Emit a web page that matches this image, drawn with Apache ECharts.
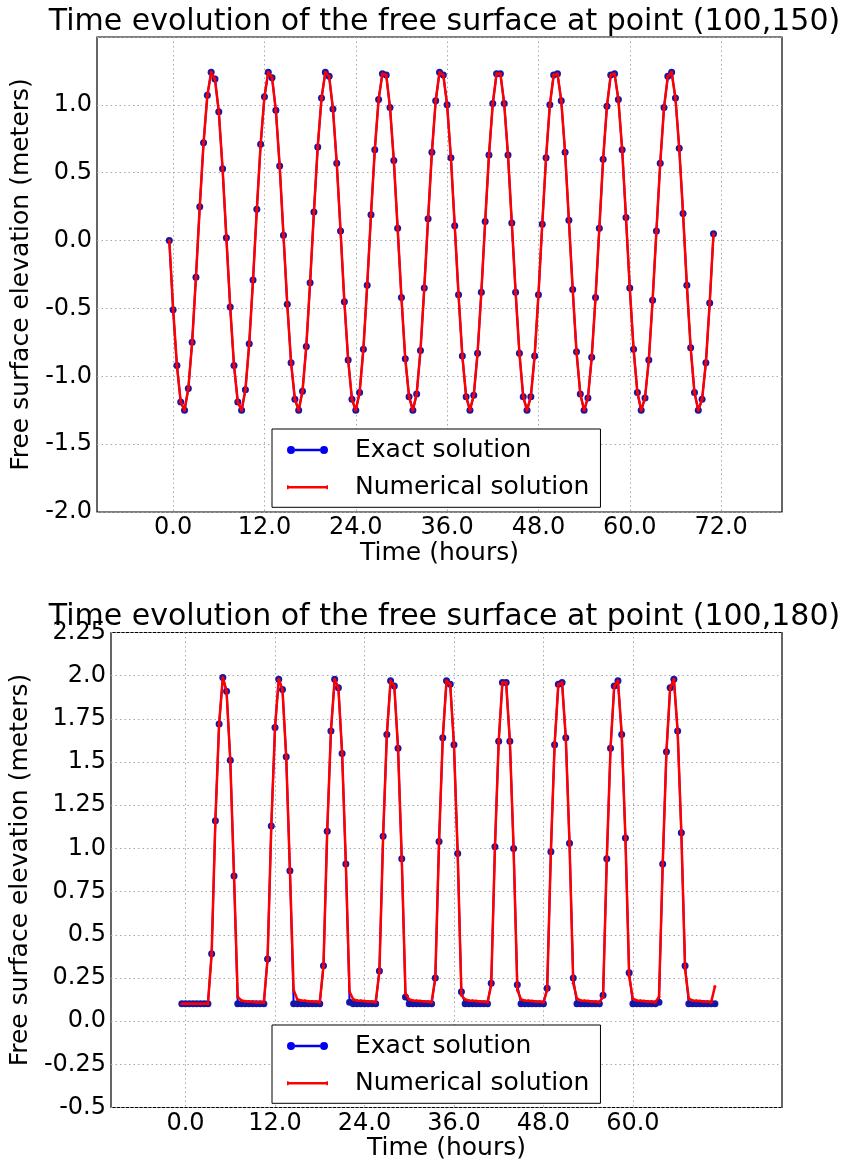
<!DOCTYPE html>
<html><head><meta charset="utf-8">
<script src="https://cdn.jsdelivr.net/npm/echarts@6/dist/echarts.min.js"></script>
<style>html,body{margin:0;padding:0;background:#fff}#c{width:846px;height:1164px}</style>
</head><body><div id="c"></div>
<script>
// ---------- data ----------
const titleTop = 'Time evolution of the free surface at point (100,150)';
const titleBot = 'Time evolution of the free surface at point (100,180)';
const xName = 'Time (hours)';
const yName = 'Free surface elevation (meters)';
const seriesNames = ['Exact solution', 'Numerical solution'];
const t0 = -0.5, dt = 0.5;            // sampling of the time series (hours)
const xTicksTop = [0, 12, 24, 36, 48, 60, 72];
const xTicksBot = [0, 12, 24, 36, 48, 60];

const exactTop = [
  0.00,-0.51,-0.92,-1.19,-1.25,-1.09,-0.75,-0.27, 0.25, 0.72, 1.07, 1.24, 1.19, 0.95, 0.53,
  0.02,-0.49,-0.92,-1.19,-1.25,-1.10,-0.76,-0.29, 0.23, 0.71, 1.06, 1.24, 1.20, 0.96, 0.55,
  0.04,-0.47,-0.90,-1.17,-1.25,-1.11,-0.78,-0.31, 0.21, 0.69, 1.05, 1.24, 1.21, 0.97, 0.57,
  0.07,-0.45,-0.88,-1.17,-1.25,-1.12,-0.80,-0.33, 0.19, 0.67, 1.04, 1.23, 1.22, 0.98, 0.59,
  0.09,-0.42,-0.87,-1.15,-1.25,-1.13,-0.81,-0.35, 0.16, 0.65, 1.03, 1.24, 1.22, 1.00, 0.61,
  0.11,-0.40,-0.85,-1.15,-1.25,-1.14,-0.83,-0.38, 0.14, 0.63, 1.01, 1.23, 1.23, 1.01, 0.63,
  0.13,-0.38,-0.83,-1.15,-1.25,-1.15,-0.85,-0.40, 0.12, 0.61, 1.00, 1.22, 1.23, 1.03, 0.65,
  0.15,-0.36,-0.82,-1.13,-1.25,-1.16,-0.86,-0.42, 0.09, 0.60, 0.99, 1.22, 1.23, 1.04, 0.67,
  0.17,-0.35,-0.80,-1.12,-1.25,-1.16,-0.88,-0.44, 0.07, 0.57, 0.98, 1.21, 1.24, 1.05, 0.68,
  0.20,-0.33,-0.79,-1.12,-1.25,-1.17,-0.90,-0.46, 0.05
];
const numTop = [
  0.00,-0.50,-0.92,-1.19,-1.25,-1.09,-0.75,-0.27, 0.25, 0.72, 1.07, 1.24, 1.19, 0.95, 0.53,
  0.02,-0.49,-0.92,-1.19,-1.25,-1.10,-0.76,-0.29, 0.23, 0.71, 1.06, 1.24, 1.20, 0.96, 0.55,
  0.04,-0.47,-0.90,-1.17,-1.25,-1.11,-0.78,-0.31, 0.21, 0.69, 1.05, 1.24, 1.21, 0.97, 0.57,
  0.07,-0.45,-0.88,-1.17,-1.25,-1.12,-0.80,-0.33, 0.19, 0.67, 1.04, 1.23, 1.22, 0.98, 0.59,
  0.09,-0.42,-0.87,-1.15,-1.25,-1.13,-0.81,-0.35, 0.16, 0.65, 1.03, 1.24, 1.22, 1.00, 0.61,
  0.11,-0.40,-0.85,-1.15,-1.25,-1.14,-0.83,-0.38, 0.14, 0.63, 1.01, 1.23, 1.23, 1.01, 0.63,
  0.13,-0.38,-0.83,-1.15,-1.25,-1.15,-0.85,-0.40, 0.12, 0.61, 1.00, 1.22, 1.23, 1.03, 0.65,
  0.15,-0.36,-0.82,-1.13,-1.25,-1.16,-0.86,-0.42, 0.09, 0.60, 0.99, 1.22, 1.23, 1.04, 0.67,
  0.17,-0.35,-0.80,-1.12,-1.25,-1.16,-0.88,-0.44, 0.07, 0.57, 0.98, 1.21, 1.24, 1.05, 0.68,
  0.20,-0.33,-0.79,-1.12,-1.25,-1.17,-0.90,-0.46, 0.05
];
const exactBot = [
  0.10, 0.10, 0.10, 0.10, 0.10, 0.10, 0.10, 0.10, 0.39, 1.16, 1.72, 1.99, 1.91, 1.51, 0.84,
  0.10, 0.10, 0.10, 0.10, 0.10, 0.10, 0.10, 0.10, 0.36, 1.13, 1.70, 1.98, 1.92, 1.53, 0.87,
  0.10, 0.10, 0.10, 0.10, 0.10, 0.10, 0.10, 0.10, 0.32, 1.10, 1.68, 1.98, 1.93, 1.55, 0.91,
  0.11, 0.10, 0.10, 0.10, 0.10, 0.10, 0.10, 0.10, 0.29, 1.07, 1.66, 1.97, 1.94, 1.58, 0.94,
  0.14, 0.10, 0.10, 0.10, 0.10, 0.10, 0.10, 0.10, 0.25, 1.04, 1.64, 1.97, 1.95, 1.60, 0.97,
  0.17, 0.10, 0.10, 0.10, 0.10, 0.10, 0.10, 0.10, 0.22, 1.01, 1.62, 1.96, 1.96, 1.62, 1.00,
  0.21, 0.10, 0.10, 0.10, 0.10, 0.10, 0.10, 0.10, 0.19, 0.98, 1.60, 1.95, 1.96, 1.64, 1.03,
  0.25, 0.10, 0.10, 0.10, 0.10, 0.10, 0.10, 0.10, 0.15, 0.94, 1.58, 1.94, 1.97, 1.66, 1.06,
  0.28, 0.10, 0.10, 0.10, 0.10, 0.10, 0.10, 0.10, 0.11, 0.91, 1.56, 1.93, 1.98, 1.68, 1.09,
  0.32, 0.10, 0.10, 0.10, 0.10, 0.10, 0.10, 0.10, 0.10
];
const numBot = [
  0.10, 0.10, 0.10, 0.10, 0.10, 0.10, 0.10, 0.10, 0.39, 1.16, 1.72, 1.99, 1.91, 1.51, 0.84,
  0.14, 0.12, 0.115,0.113,0.112,0.11, 0.11, 0.108,0.36, 1.13, 1.70, 1.98, 1.92, 1.53, 0.87,
  0.18, 0.125,0.12, 0.118,0.115,0.113,0.112,0.11, 0.32, 1.10, 1.68, 1.98, 1.93, 1.55, 0.91,
  0.17, 0.125,0.12, 0.118,0.116,0.114,0.112,0.11, 0.29, 1.07, 1.66, 1.97, 1.94, 1.58, 0.94,
  0.16, 0.125,0.12, 0.118,0.116,0.114,0.112,0.11, 0.25, 1.04, 1.64, 1.97, 1.95, 1.60, 0.97,
  0.15, 0.125,0.12, 0.118,0.116,0.114,0.112,0.11, 0.21, 1.01, 1.62, 1.96, 1.96, 1.62, 1.00,
  0.18, 0.125,0.12, 0.118,0.116,0.114,0.112,0.11, 0.18, 0.98, 1.60, 1.95, 1.96, 1.64, 1.03,
  0.22, 0.13, 0.12, 0.118,0.116,0.114,0.112,0.11, 0.14, 0.94, 1.58, 1.94, 1.97, 1.66, 1.06,
  0.26, 0.13, 0.12, 0.118,0.116,0.114,0.112,0.11, 0.14, 0.91, 1.56, 1.93, 1.98, 1.68, 1.09,
  0.30, 0.13, 0.12, 0.118,0.116,0.114,0.112,0.11, 0.20
];

// ---------- chart ----------
const FONT = 'DejaVu Sans';
const pairs = arr => arr.map((v, i) => [t0 + i * dt, v]);
const chart = echarts.init(document.getElementById('c'), null, {renderer: 'canvas'});

const grids = [
  {left: 97, top: 37, width: 685, height: 475},
  {left: 97, top: 632.5, width: 685, height: 475}
];
const gridStyle = {show: true, borderColor: '#000', borderWidth: 1.2, backgroundColor: '#fff'};

const dotted = {show: true, lineStyle: {color: '#a8a8a8', type: [1.5, 3], width: 1}};

function xAxis(gi, ticks) {
  return {
    type: 'value', gridIndex: gi, min: -10, max: 80,
    name: xName, nameLocation: 'middle', nameGap: 27,
    nameTextStyle: {fontFamily: FONT, fontSize: 25, color: '#000'},
    axisLine: {show: false},
    axisTick: {show: false, customValues: ticks},
    axisLabel: {customValues: ticks, formatter: v => v.toFixed(1), fontFamily: FONT, fontSize: 24, color: '#000', margin: 4},
    splitLine: dotted
  };
}
function yAxis(gi, min, max, interval, fmt, showMax, gap) {
  return {
    type: 'value', gridIndex: gi, min, max, interval,
    name: yName, nameLocation: 'middle', nameGap: gap,
    nameTextStyle: {fontFamily: FONT, fontSize: 25, color: '#000'},
    axisLine: {show: false}, axisTick: {show: false},
    axisLabel: {formatter: fmt, fontFamily: FONT, fontSize: 24, color: '#000', margin: 5, showMaxLabel: showMax, showMinLabel: true},
    splitLine: dotted
  };
}
const fmtTop = v => v.toFixed(1);
const fmtBot = v => (Math.abs(v * 2 - Math.round(v * 2)) < 1e-9 ? v.toFixed(1) : v.toFixed(2));

const iconExact = 'path://M0,4A4,4,0,1,1,8,4A4,4,0,1,1,0,4ZM8,2.8L33,2.8L33,5.2L8,5.2ZM33,4A4,4,0,1,1,41,4A4,4,0,1,1,33,4Z';
const iconNum = 'path://M0,2L1.6,2L1.6,6L0,6ZM39.4,2L41,2L41,6L39.4,6ZM1.6,2.8L39.4,2.8L39.4,5.2L1.6,5.2Z';

function legend(top) {
  return {
    left: 272, top: top, orient: 'vertical',
    padding: [7, 11, 6, 15], itemGap: 9.3, itemWidth: 41, itemHeight: 8,
    borderColor: '#000', borderWidth: 1, backgroundColor: '#fff',
    textStyle: {fontFamily: FONT, fontSize: 25, color: '#000', lineHeight: 28, padding: [0, 0, 0, 22]},
    data: [
      {name: seriesNames[0], icon: iconExact, itemStyle: {color: '#0000ee'}},
      {name: seriesNames[1], icon: iconNum, itemStyle: {color: '#ff0000'}}
    ],
    selectedMode: false
  };
}

function exactSeries(gi, arr) {
  return {
    name: seriesNames[0], type: 'line', xAxisIndex: gi, yAxisIndex: gi, data: pairs(arr),
    symbol: 'circle', symbolSize: 7, showSymbol: true,
    itemStyle: {color: '#1616a8'}, lineStyle: {color: '#0000ee', width: 2}, z: 2
  };
}
function numSeries(gi, arr) {
  return {
    name: seriesNames[1], type: 'line', xAxisIndex: gi, yAxisIndex: gi, data: pairs(arr),
    symbol: 'circle', symbolSize: 3, showSymbol: true,
    itemStyle: {color: '#ff0000'}, lineStyle: {color: '#ff0000', width: 2.5}, z: 3
  };
}

chart.setOption({
  animation: false,
  backgroundColor: '#fff',
  title: [
    {text: titleTop, left: 439.5, textAlign: 'center', top: 2, textStyle: {fontFamily: FONT, fontSize: 30, fontWeight: 'normal', color: '#000'}},
    {text: titleBot, left: 439.5, textAlign: 'center', top: 597, textStyle: {fontFamily: FONT, fontSize: 30, fontWeight: 'normal', color: '#000'}}
  ],
  grid: grids.map(g => Object.assign({}, g, gridStyle)),
  xAxis: [xAxis(0, xTicksTop), xAxis(1, xTicksBot)],
  yAxis: [
    yAxis(0, -2, 1.5, 0.5, fmtTop, false, 48),
    yAxis(1, -0.5, 2.25, 0.25, fmtBot, true, 74)
  ],
  legend: [legend(429), legend(1025)],
  series: [
    exactSeries(0, exactTop), numSeries(0, numTop),
    exactSeries(1, exactBot), numSeries(1, numBot)
  ]
});
</script>
</body></html>
